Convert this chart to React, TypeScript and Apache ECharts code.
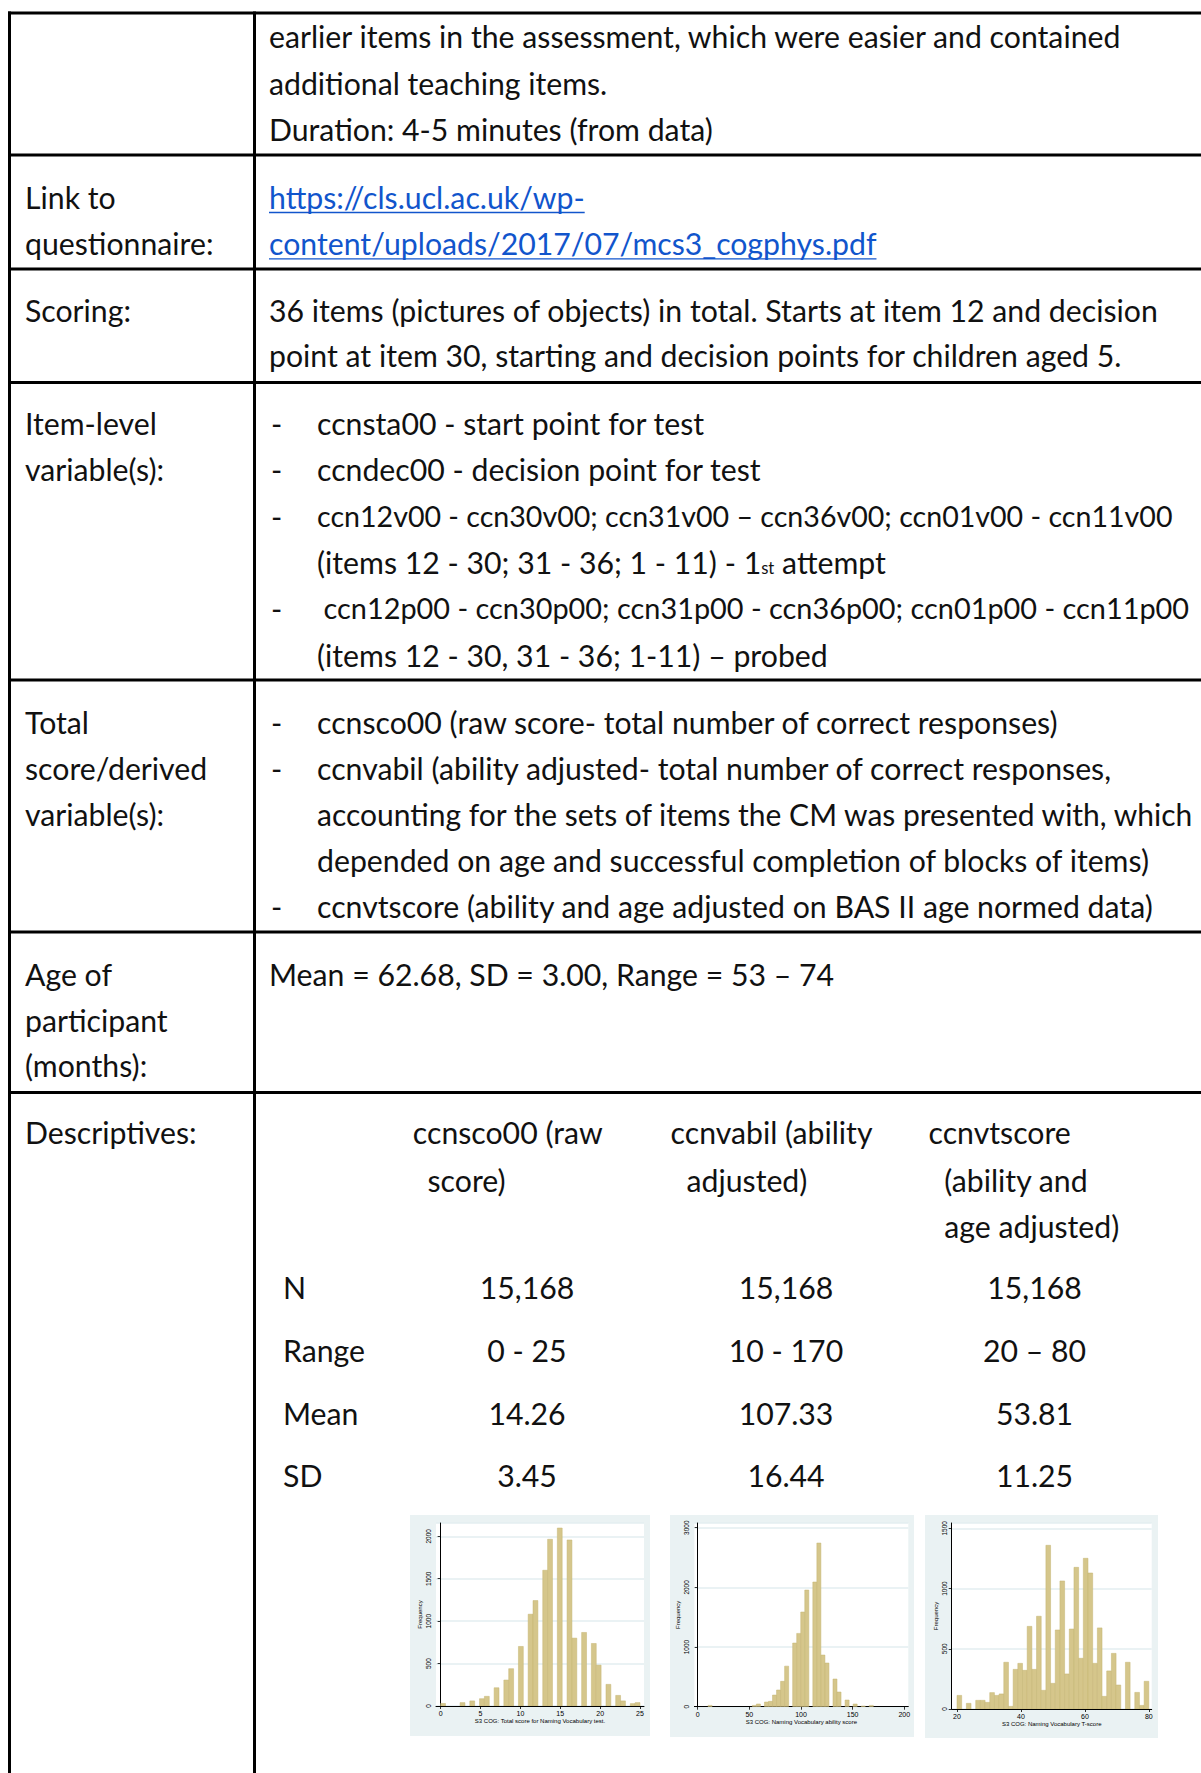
import React, { useEffect, useRef } from 'react';
import * as echarts from 'echarts';

// ---------- Histogram data (41 Stata bins each; bin index -> frequency) ----------
const rawBins = [0, 4, 6, 8, 9, 11, 13, 14, 16, 18, 19, 21, 22, 24, 26, 27, 29, 31, 32, 34, 36, 37, 39, 40];
const rawCounts = [30, 40, 60, 86, 114, 215, 306, 440, 702, 1082, 1243, 1600, 1965, 2098, 1957, 800, 867, 737, 482, 255, 125, 60, 28, 40];

const abilityBins = [0, 11, 12, 14, 15, 16, 17, 18, 19, 21, 22, 23, 24, 26, 27, 28, 29, 31, 32, 34, 36, 38, 40];
const abilityCounts = [22, 22, 45, 78, 90, 195, 280, 425, 680, 1067, 1229, 1587, 1955, 2090, 2743, 866, 732, 464, 246, 112, 45, 11, 22];

const tBins = [0, 2, 4, 5, 6, 7, 8, 9, 10, 11, 12, 13, 14, 15, 16, 17, 18, 19, 20, 21, 22, 23, 24, 25, 26, 27, 28, 29, 30, 31, 32, 33, 34, 36, 38, 39, 40];
const tCounts = [113, 47, 72, 72, 55, 136, 113, 125, 388, 22, 329, 379, 321, 686, 329, 770, 155, 1359, 213, 656, 1063, 291, 664, 1176, 421, 1251, 1129, 379, 673, 105, 316, 462, 199, 388, 138, 30, 230];

const rawTicks = [0, 5, 10, 15, 20, 25];
const abilityTicks = [0, 50, 100, 150, 200];
const tTicks = [20, 40, 60, 80];

const histTitles = [
  'S3 COG: Total score for Naming Vocabulary test.',
  'S3 COG: Naming Vocabulary ability score',
  'S3 COG: Naming Vocabulary T-score',
];

// ---------- Table text ----------
const leftLabels = [
  'Link to', 'questionnaire:', 'Scoring:', 'Item-level', 'variable(s):',
  'Total', 'score/derived', 'variable(s):', 'Age of', 'participant', '(months):', 'Descriptives:',
];
const plainLines = [
  'earlier items in the assessment, which were easier and contained',
  'additional teaching items.',
  'Duration: 4-5 minutes (from data)',
  '36 items (pictures of objects) in total. Starts at item 12 and decision',
  'point at item 30, starting and decision points for children aged 5.',
  'Mean = 62.68, SD = 3.00, Range = 53 – 74',
];
const linkLines = ['https://cls.ucl.ac.uk/wp-', 'content/uploads/2017/07/mcs3_cogphys.pdf'];
const itemLines = [
  'ccnsta00 - start point for test',
  'ccndec00 - decision point for test',
  'ccn12v00 - ccn30v00; ccn31v00 – ccn36v00; ccn01v00 - ccn11v00',
  '(items 12 - 30; 31 - 36; 1 - 11) - 1',
  'ccn12p00 - ccn30p00; ccn31p00 - ccn36p00; ccn01p00 - ccn11p00',
  '(items 12 - 30, 31 - 36; 1-11) – probed',
];
const totalLines = [
  'ccnsco00 (raw score- total number of correct responses)',
  'ccnvabil (ability adjusted- total number of correct responses,',
  'accounting for the sets of items the CM was presented with, which',
  'depended on age and successful completion of blocks of items)',
  'ccnvtscore (ability and age adjusted on BAS II age normed data)',
];
const descHeaders = [
  ['ccnsco00 (raw', 'score)'],
  ['ccnvabil (ability', 'adjusted)'],
  ['ccnvtscore', '(ability and', 'age adjusted)'],
];
const descRowLabels = ['N', 'Range', 'Mean', 'SD'];
const descN = ['15,168', '15,168', '15,168'];
const descRange = ['0 - 25', '10 - 170', '20 – 80'];
const descMean = ['14.26', '107.33', '53.81'];
const descSD = ['3.45', '16.44', '11.25'];

export default function App() {
  const ref = useRef<HTMLDivElement>(null);

  useEffect(() => {
    document.body.style.margin = '0';
    const el = ref.current!;
    const chart = echarts.init(el, null, { renderer: 'svg' });

    const cv = document.createElement('canvas');
    const ctx = cv.getContext('2d')!;
    const FONT = 'Lato';
    const measure = (t: string, fs: number) => {
      ctx.font = `${fs}px ${FONT}`;
      return ctx.measureText(t).width;
    };
    const calib: [string, number][] = [
      ['Duration: 4-5 minutes (from data)', 448],
      ['36 items (pictures of objects) in total. Starts at item 12 and decision', 892],
      ['accounting for the sets of items the CM was presented with, which', 876],
    ];
    let ratio = 0;
    calib.forEach(([t, w]) => (ratio += w / measure(t, 27)));
    const FS = (27 * ratio) / calib.length;
    // shrink a line so it ends where it ends in the reference
    const fitFs = (t: string, maxW: number) => Math.min(FS, (FS * maxW) / measure(t, FS));

    const TXT = '#111';
    const els: any[] = [];
    const text = (x: number, y: number, t: string, opt: any = {}) => {
      els.push({
        type: 'text',
        x,
        y,
        silent: true,
        style: {
          text: t,
          fill: opt.color || TXT,
          fontSize: opt.fs || FS,
          fontFamily: FONT,
          textAlign: opt.align || 'left',
          textVerticalAlign: 'middle',
        },
      });
    };
    const line = (x1: number, y1: number, x2: number, y2: number, w = 3, c = '#000') => {
      els.push({ type: 'line', silent: true, shape: { x1, y1, x2, y2 }, style: { stroke: c, lineWidth: w } });
    };

    // table borders
    const hLines = [13, 155, 269, 382.5, 680, 932, 1092.5];
    hLines.forEach((y) => line(8, y, 1201, y));
    line(9.5, 11.5, 9.5, 1773);
    line(254.5, 11.5, 254.5, 1773);

    // left column
    const leftY = [196.8, 243.1, 309.9, 423, 469.3, 721.5, 767.9, 814.2, 973.7, 1020, 1065.3, 1132];
    leftLabels.forEach((t, i) => text(25, leftY[i], t));

    // right column, plain
    const plainY = [36.2, 82.6, 128.9, 309.9, 355.1, 973.7];
    plainLines.forEach((t, i) => text(269, plainY[i], t));

    // link lines
    const linkY = [196.8, 243.1];
    linkLines.forEach((t, i) => {
      text(269, linkY[i], t, { color: '#1155cc' });
      const w = measure(t, FS);
      const uy = linkY[i] + FS * 0.52;
      line(269, uy, 269 + w, uy, 1.3, '#1155cc');
    });

    // item-level bullets
    const itemY = [423, 469.3, 515.7, 562, 608.4, 654.8];
    const itemDash = [true, true, true, false, true, false];
    const itemX = [317, 317, 317, 317, 323.5, 317];
    const itemEnd = [0, 0, 1172, 0, 1189, 0];
    itemLines.forEach((t, i) => {
      if (itemDash[i]) text(271, itemY[i], '-');
      const fs = itemEnd[i] ? fitFs(t, itemEnd[i] - itemX[i]) : FS;
      text(itemX[i], itemY[i], t, { fs });
    });
    // 1st attempt with subscript
    {
      const w1 = measure(itemLines[3], FS);
      const sfs = FS * 0.55;
      text(317 + w1, itemY[3] + FS * 0.2, 'st', { fs: sfs });
      const w2 = measure('st', sfs);
      text(317 + w1 + w2, itemY[3], ' attempt');
    }

    // total score bullets
    const totalY = [721.5, 767.9, 814.2, 859.5, 905.8];
    const totalDash = [true, true, false, false, true];
    totalLines.forEach((t, i) => {
      if (totalDash[i]) text(271, totalY[i], '-');
      text(317, totalY[i], t, { fs: fitFs(t, 1195 - 317) });
    });

    // descriptives
    const headX = [
      [412.8, 427.5],
      [670.6, 686.5],
      [928.5, 944.3, 944.3],
    ];
    const headY = [1132, 1179.5, 1226];
    descHeaders.forEach((col, c) => col.forEach((t, r) => text(headX[c][r], headY[r], t)));
    const rowY = [1287, 1350.3, 1412.5, 1474.7];
    descRowLabels.forEach((t, r) => text(283, rowY[r], t));
    const colX = [527, 786, 1034.5];
    [descN, descRange, descMean, descSD].forEach((row, r) =>
      row.forEach((v, c) => text(colX[c], rowY[r], v, { align: 'center' }))
    );

    // histogram panels
    const panels = [
      { bins: rawBins, counts: rawCounts, lo: 0, hi: 25, ticks: rawTicks, xMin: -0.58, xMax: 25.5, yMax: 2157, yInt: 500,
        bg: [410, 1515, 240, 221], grid: [436, 1523, 208, 183] },
      { bins: abilityBins, counts: abilityCounts, lo: 10, hi: 170, ticks: abilityTicks, xMin: -3.2, xMax: 203.9, yMax: 3079, yInt: 1000,
        bg: [670, 1515, 244, 222], grid: [694.4, 1523, 213.9, 183.7] },
      { bins: tBins, counts: tCounts, lo: 20, hi: 80, ticks: tTicks, xMin: 18.34, xMax: 80.9, yMax: 1544, yInt: 500,
        bg: [925, 1515, 233, 223], grid: [951.7, 1523, 200, 186] },
    ];
    const NB = 41;
    panels.forEach((p) => {
      els.push({ type: 'rect', z: -10, silent: true, shape: { x: p.bg[0], y: p.bg[1], width: p.bg[2], height: p.bg[3] }, style: { fill: '#eaf2f3' } });
      els.push({ type: 'rect', z: -9, silent: true, shape: { x: p.grid[0], y: p.grid[1], width: p.grid[2], height: p.grid[3] }, style: { fill: '#ffffff' } });
    });

    const HF = '"Liberation Sans", Arial, sans-serif';
    const plain = (v: number) => String(v);
    const grids = panels.map((p) => ({ left: p.grid[0], top: p.grid[1], width: p.grid[2], height: p.grid[3], containLabel: false }));
    const xAxes = panels.map((p, i) => ({
      gridIndex: i,
      type: 'value',
      min: p.xMin,
      max: p.xMax,
      axisLine: { show: true, onZero: false, lineStyle: { color: '#000', width: 1 } },
      axisTick: { show: true, customValues: p.ticks, length: 3, lineStyle: { color: '#000', width: 0.8 } },
      axisLabel: { customValues: p.ticks, formatter: plain, fontSize: 7, color: '#000', margin: 4, fontFamily: HF },
      splitLine: { show: false },
      name: histTitles[i],
      nameLocation: 'middle',
      nameGap: 12,
      nameTextStyle: { fontSize: 6, color: '#000', fontFamily: HF },
    }));
    const yAxes = panels.map((p, i) => ({
      gridIndex: i,
      type: 'value',
      min: 0,
      max: p.yMax,
      interval: p.yInt,
      axisLine: { show: true, lineStyle: { color: '#000', width: 1 } },
      axisTick: { show: true, length: 3, lineStyle: { color: '#000', width: 0.8 } },
      axisLabel: { rotate: 90, formatter: plain, fontSize: 6.5, color: '#000', margin: 4, showMaxLabel: false, fontFamily: HF },
      splitLine: { show: true, lineStyle: { color: '#e3eef0', width: 1.5 } },
      name: 'Frequency',
      nameLocation: 'middle',
      nameRotate: 90,
      nameGap: 13,
      nameTextStyle: { fontSize: 6, color: '#000', fontFamily: HF },
    }));
    const series = panels.map((p, i) => {
      const w = (p.hi - p.lo) / NB;
      const data = p.bins.map((b, k) => [p.lo + b * w, p.lo + (b + 1) * w, p.counts[k]]);
      return {
        type: 'custom',
        xAxisIndex: i,
        yAxisIndex: i,
        data,
        encode: { x: [0, 1], y: 2 },
        clip: true,
        renderItem: (_params: any, api: any) => {
          const p0 = api.coord([api.value(0), api.value(2)]);
          const p1 = api.coord([api.value(1), 0]);
          return {
            type: 'rect',
            shape: { x: p0[0], y: p0[1], width: p1[0] - p0[0], height: p1[1] - p0[1] },
            style: { fill: '#d5c68b', stroke: '#c4b473', lineWidth: 0.5 },
          };
        },
      };
    });

    chart.setOption({
      animation: false,
      backgroundColor: '#ffffff',
      grid: grids,
      xAxis: xAxes,
      yAxis: yAxes,
      series,
      graphic: { elements: els },
    });

    return () => chart.dispose();
  }, []);

  return <div ref={ref} style={{ width: 1201, height: 1773 }} />;
}
